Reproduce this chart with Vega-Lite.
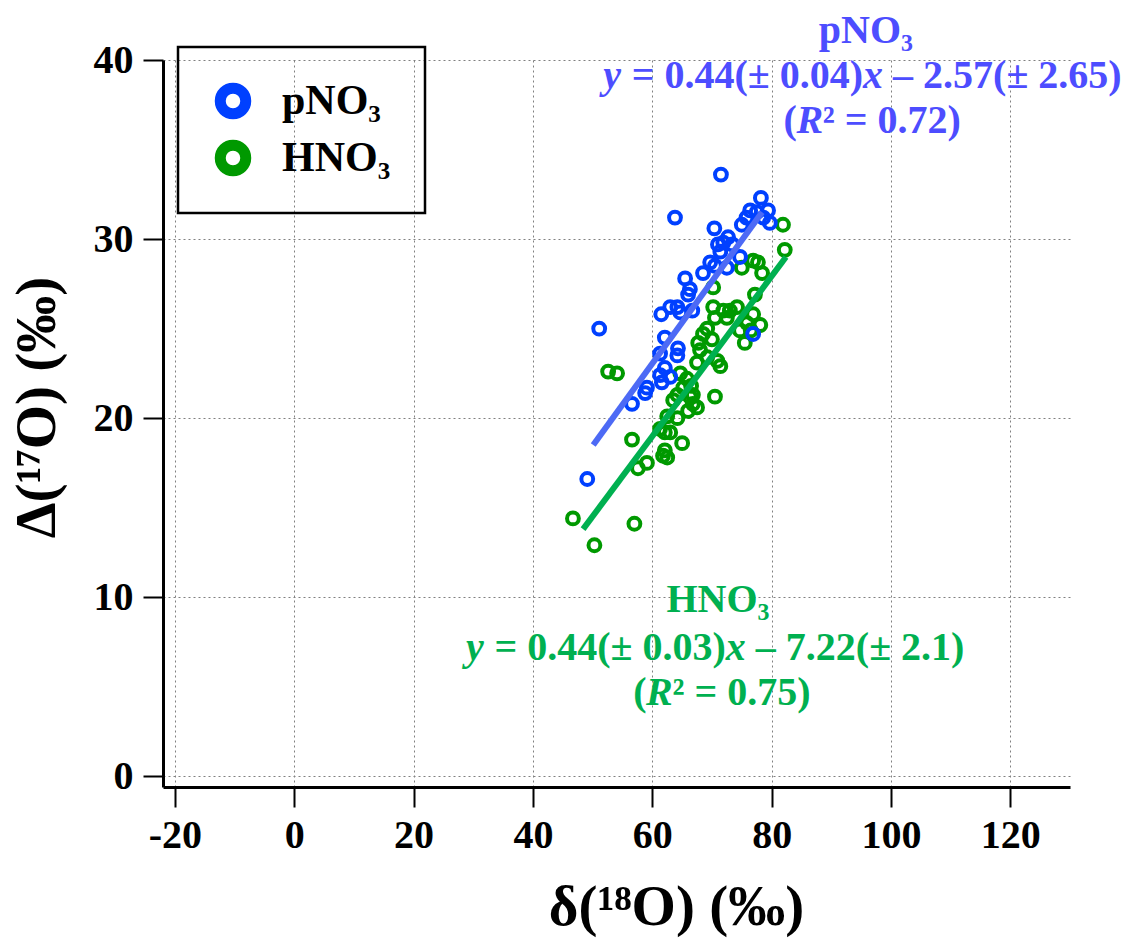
{
  "$schema": "https://vega.github.io/schema/vega-lite/v6.json",
  "width": 907,
  "height": 727,
  "autosize": {"type": "none"},
  "padding": {"left": 163, "top": 60, "right": 61, "bottom": 154},
  "background": "white",
  "config": {
    "view": {"stroke": null},
    "font": "Liberation Serif",
    "legend": {"strokeWidth": 2.5},
    "axis": {
      "domainColor": "black",
      "domainWidth": 3,
      "tickColor": "black",
      "tickWidth": 2,
      "tickSize": 20,
      "labelFont": "Liberation Serif",
      "labelFontSize": 40,
      "labelFontWeight": "bold",
      "labelColor": "black",
      "gridColor": "#808080",
      "gridDash": [2, 3],
      "gridWidth": 1,
      "titleFont": "Liberation Serif",
      "titleFontSize": 57,
      "titleFontWeight": "bold",
      "titleColor": "black"
    }
  },
  "datasets": {
    "pts": [
      {"species": "HNO₃", "d18O": 81.9, "D17O": 30.8},
      {"species": "HNO₃", "d18O": 82.2, "D17O": 29.4},
      {"species": "HNO₃", "d18O": 76.9, "D17O": 28.8},
      {"species": "HNO₃", "d18O": 77.7, "D17O": 28.7},
      {"species": "HNO₃", "d18O": 78.4, "D17O": 28.1},
      {"species": "HNO₃", "d18O": 75.0, "D17O": 28.4},
      {"species": "HNO₃", "d18O": 77.2, "D17O": 26.9},
      {"species": "HNO₃", "d18O": 70.2, "D17O": 27.3},
      {"species": "HNO₃", "d18O": 70.2, "D17O": 26.2},
      {"species": "HNO₃", "d18O": 71.9, "D17O": 26.0},
      {"species": "HNO₃", "d18O": 74.2, "D17O": 26.2},
      {"species": "HNO₃", "d18O": 73.0, "D17O": 26.0},
      {"species": "HNO₃", "d18O": 70.5, "D17O": 25.6},
      {"species": "HNO₃", "d18O": 72.5, "D17O": 25.6},
      {"species": "HNO₃", "d18O": 76.9, "D17O": 25.8},
      {"species": "HNO₃", "d18O": 78.1, "D17O": 25.2},
      {"species": "HNO₃", "d18O": 75.9, "D17O": 25.3},
      {"species": "HNO₃", "d18O": 74.7, "D17O": 24.9},
      {"species": "HNO₃", "d18O": 75.5, "D17O": 24.2},
      {"species": "HNO₃", "d18O": 76.5, "D17O": 24.9},
      {"species": "HNO₃", "d18O": 69.2, "D17O": 25.0},
      {"species": "HNO₃", "d18O": 68.5, "D17O": 24.7},
      {"species": "HNO₃", "d18O": 67.7, "D17O": 24.2},
      {"species": "HNO₃", "d18O": 68.0, "D17O": 23.8},
      {"species": "HNO₃", "d18O": 70.0, "D17O": 24.4},
      {"species": "HNO₃", "d18O": 70.9, "D17O": 23.2},
      {"species": "HNO₃", "d18O": 71.4, "D17O": 22.9},
      {"species": "HNO₃", "d18O": 69.2, "D17O": 23.4},
      {"species": "HNO₃", "d18O": 67.5, "D17O": 23.1},
      {"species": "HNO₃", "d18O": 64.7, "D17O": 22.5},
      {"species": "HNO₃", "d18O": 65.8, "D17O": 22.2},
      {"species": "HNO₃", "d18O": 65.2, "D17O": 21.7},
      {"species": "HNO₃", "d18O": 66.5, "D17O": 21.8},
      {"species": "HNO₃", "d18O": 64.2, "D17O": 21.3},
      {"species": "HNO₃", "d18O": 66.8, "D17O": 21.3},
      {"species": "HNO₃", "d18O": 70.5, "D17O": 21.2},
      {"species": "HNO₃", "d18O": 52.6, "D17O": 22.6},
      {"species": "HNO₃", "d18O": 54.1, "D17O": 22.5},
      {"species": "HNO₃", "d18O": 63.5, "D17O": 21.0},
      {"species": "HNO₃", "d18O": 66.3, "D17O": 21.2},
      {"species": "HNO₃", "d18O": 66.8, "D17O": 20.8},
      {"species": "HNO₃", "d18O": 66.0, "D17O": 20.4},
      {"species": "HNO₃", "d18O": 67.5, "D17O": 20.6},
      {"species": "HNO₃", "d18O": 62.5, "D17O": 20.1},
      {"species": "HNO₃", "d18O": 64.2, "D17O": 20.0},
      {"species": "HNO₃", "d18O": 62.1, "D17O": 19.2},
      {"species": "HNO₃", "d18O": 63.0, "D17O": 19.2},
      {"species": "HNO₃", "d18O": 61.3, "D17O": 19.4},
      {"species": "HNO₃", "d18O": 65.0, "D17O": 18.6},
      {"species": "HNO₃", "d18O": 62.1, "D17O": 18.2},
      {"species": "HNO₃", "d18O": 61.8, "D17O": 17.9},
      {"species": "HNO₃", "d18O": 62.5, "D17O": 17.8},
      {"species": "HNO₃", "d18O": 56.6, "D17O": 18.8},
      {"species": "HNO₃", "d18O": 59.1, "D17O": 17.5},
      {"species": "HNO₃", "d18O": 57.6, "D17O": 17.2},
      {"species": "HNO₃", "d18O": 46.7, "D17O": 14.4},
      {"species": "HNO₃", "d18O": 57.0, "D17O": 14.1},
      {"species": "HNO₃", "d18O": 50.3, "D17O": 12.9},
      {"species": "pNO₃", "d18O": 71.5, "D17O": 33.6},
      {"species": "pNO₃", "d18O": 63.8, "D17O": 31.2},
      {"species": "pNO₃", "d18O": 78.2, "D17O": 32.3},
      {"species": "pNO₃", "d18O": 76.4, "D17O": 31.6},
      {"species": "pNO₃", "d18O": 77.5, "D17O": 31.5},
      {"species": "pNO₃", "d18O": 79.4, "D17O": 31.6},
      {"species": "pNO₃", "d18O": 79.7, "D17O": 30.9},
      {"species": "pNO₃", "d18O": 78.6, "D17O": 31.2},
      {"species": "pNO₃", "d18O": 75.0, "D17O": 30.8},
      {"species": "pNO₃", "d18O": 75.8, "D17O": 31.2},
      {"species": "pNO₃", "d18O": 70.4, "D17O": 30.6},
      {"species": "pNO₃", "d18O": 72.7, "D17O": 30.1},
      {"species": "pNO₃", "d18O": 71.9, "D17O": 29.8},
      {"species": "pNO₃", "d18O": 73.4, "D17O": 29.7},
      {"species": "pNO₃", "d18O": 71.0, "D17O": 29.7},
      {"species": "pNO₃", "d18O": 71.4, "D17O": 29.3},
      {"species": "pNO₃", "d18O": 74.7, "D17O": 29.0},
      {"species": "pNO₃", "d18O": 69.7, "D17O": 28.7},
      {"species": "pNO₃", "d18O": 70.5, "D17O": 28.5},
      {"species": "pNO₃", "d18O": 68.5, "D17O": 28.1},
      {"species": "pNO₃", "d18O": 72.5, "D17O": 28.4},
      {"species": "pNO₃", "d18O": 65.5, "D17O": 27.8},
      {"species": "pNO₃", "d18O": 66.3, "D17O": 27.2},
      {"species": "pNO₃", "d18O": 66.0, "D17O": 26.9},
      {"species": "pNO₃", "d18O": 63.0, "D17O": 26.2},
      {"species": "pNO₃", "d18O": 64.2, "D17O": 26.2},
      {"species": "pNO₃", "d18O": 64.7, "D17O": 25.9},
      {"species": "pNO₃", "d18O": 66.7, "D17O": 26.0},
      {"species": "pNO₃", "d18O": 61.5, "D17O": 25.8},
      {"species": "pNO₃", "d18O": 51.1, "D17O": 25.0},
      {"species": "pNO₃", "d18O": 76.9, "D17O": 24.7},
      {"species": "pNO₃", "d18O": 62.1, "D17O": 24.5},
      {"species": "pNO₃", "d18O": 64.3, "D17O": 23.9},
      {"species": "pNO₃", "d18O": 64.2, "D17O": 23.5},
      {"species": "pNO₃", "d18O": 61.3, "D17O": 23.6},
      {"species": "pNO₃", "d18O": 62.1, "D17O": 22.8},
      {"species": "pNO₃", "d18O": 61.3, "D17O": 22.4},
      {"species": "pNO₃", "d18O": 63.0, "D17O": 22.3},
      {"species": "pNO₃", "d18O": 61.6, "D17O": 22.0},
      {"species": "pNO₃", "d18O": 59.1, "D17O": 21.7},
      {"species": "pNO₃", "d18O": 58.8, "D17O": 21.4},
      {"species": "pNO₃", "d18O": 56.6, "D17O": 20.8},
      {"species": "pNO₃", "d18O": 49.1, "D17O": 16.6}
    ],
    "fit": [
      {"species": "pNO₃", "d18O": 50.1, "D17O": 18.5},
      {"species": "pNO₃", "d18O": 78.4, "D17O": 31.5},
      {"species": "HNO₃", "d18O": 48.4, "D17O": 13.8},
      {"species": "HNO₃", "d18O": 82.4, "D17O": 29.0}
    ],
    "notes": [
      {"species": "pNO₃", "head": "pNO₃", "hx": 95.8, "hy": 40.95, "ex": 97.0, "ey": 38.44, "yv": "y", "eq1": "= 0.44(± 0.04)", "xv": "x", "eq2": "– 2.57(± 2.65)", "rx": 86.4, "ry": 35.92, "r0": "(", "rR": "R", "r2": "² = 0.72)"},
      {"species": "HNO₃", "head": "HNO₃", "hx": 71.0, "hy": 9.16, "ex": 74.0, "ey": 6.48, "yv": "y", "eq1": "= 0.44(± 0.03)", "xv": "x", "eq2": "– 7.22(± 2.1)", "rx": 61.2, "ry": 3.97, "r0": "(", "rR": "R", "r2": "² = 0.75)"}
    ]
  },
  "resolve": {"scale": {"color": "independent"}},
  "layer": [
    {
      "data": {"name": "pts"},
      "mark": {"type": "point", "shape": "circle", "filled": false, "strokeWidth": 4, "size": 140, "opacity": 1},
      "encoding": {
        "x": {"field": "d18O", "type": "quantitative", "scale": {"domain": [-22, 130], "nice": false, "zero": false},
              "axis": {"values": [-20, 0, 20, 40, 60, 80, 100, 120], "labelExpr": "datum.value", "labelPadding": 8, "titlePadding": 24, "titleX": 513}, "title": "δ(¹⁸O) (‰)"},
        "y": {"field": "D17O", "type": "quantitative", "scale": {"domain": [-0.6, 40], "nice": false, "zero": false},
              "axis": {"values": [0, 10, 20, 30, 40], "labelExpr": "datum.value", "labelPadding": 10, "titlePadding": 27, "titleY": 347}, "title": "Δ(¹⁷O) (‰)"},
        "color": {
          "field": "species", "type": "nominal",
          "scale": {"domain": ["pNO₃", "HNO₃"], "range": ["#0040FF", "#009900"]},
          "legend": {
            "title": null, "orient": "none", "legendX": 15, "legendY": -13,
            "padding": 34, "strokeColor": "black", "symbolType": "circle",
            "symbolSize": 650, "symbolStrokeWidth": 11, "symbolFillColor": "transparent",
            "labelFont": "Liberation Serif", "labelFontSize": 42, "labelFontWeight": "bold", "labelColor": "black",
            "labelOffset": 28, "clipHeight": 40, "rowPadding": 15,
            "encode": {
              "symbols": {"update": {"stroke": {"signal": "datum.value === 'pNO₃' ? '#4A6CF7' : '#00B050'"}, "fill": {"value": "transparent"}}},
              "legend": {"update": {"strokeWidth": {"value": 2.5}}}
            }
          }
        }
      }
    },
    {
      "data": {"name": "fit"},
      "mark": {"type": "line", "strokeWidth": 6},
      "encoding": {
        "x": {"field": "d18O", "type": "quantitative", "title": "δ(¹⁸O) (‰)"},
        "y": {"field": "D17O", "type": "quantitative", "title": "Δ(¹⁷O) (‰)"},
        "color": {"field": "species", "type": "nominal", "scale": {"domain": ["pNO₃", "HNO₃"], "range": ["#4D6AF5", "#00B050"]}, "legend": null}
      }
    },
    {
      "data": {"name": "notes"},
      "mark": {"type": "text", "align": "center", "baseline": "alphabetic", "fontSize": 40, "fontWeight": "bold", "font": "Liberation Serif"},
      "encoding": {
        "x": {"field": "hx", "type": "quantitative", "title": "δ(¹⁸O) (‰)"},
        "y": {"field": "hy", "type": "quantitative", "title": "Δ(¹⁷O) (‰)"},
        "text": {"field": "head"},
        "color": {"field": "species", "type": "nominal", "scale": {"domain": ["pNO₃", "HNO₃"], "range": ["#4D4DFF", "#00B050"]}, "legend": null}
      }
    },
    {
      "data": {"name": "notes"},
      "mark": {"type": "text", "align": "right", "dx": -252, "baseline": "alphabetic", "fontSize": 40, "fontWeight": "bold", "fontStyle": "italic", "font": "Liberation Serif"},
      "encoding": {
        "x": {"field": "ex", "type": "quantitative", "title": "δ(¹⁸O) (‰)"},
        "y": {"field": "ey", "type": "quantitative", "title": "Δ(¹⁷O) (‰)"},
        "text": {"field": "yv"},
        "color": {"field": "species", "type": "nominal", "scale": {"domain": ["pNO₃", "HNO₃"], "range": ["#4D4DFF", "#00B050"]}, "legend": null}
      }
    },
    {
      "data": {"name": "notes"},
      "mark": {"type": "text", "align": "right", "dx": -10, "baseline": "alphabetic", "fontSize": 40, "fontWeight": "bold", "font": "Liberation Serif"},
      "encoding": {
        "x": {"field": "ex", "type": "quantitative", "title": "δ(¹⁸O) (‰)"},
        "y": {"field": "ey", "type": "quantitative", "title": "Δ(¹⁷O) (‰)"},
        "text": {"field": "eq1"},
        "color": {"field": "species", "type": "nominal", "scale": {"domain": ["pNO₃", "HNO₃"], "range": ["#4D4DFF", "#00B050"]}, "legend": null}
      }
    },
    {
      "data": {"name": "notes"},
      "mark": {"type": "text", "align": "center", "baseline": "alphabetic", "fontSize": 40, "fontWeight": "bold", "fontStyle": "italic", "font": "Liberation Serif"},
      "encoding": {
        "x": {"field": "ex", "type": "quantitative", "title": "δ(¹⁸O) (‰)"},
        "y": {"field": "ey", "type": "quantitative", "title": "Δ(¹⁷O) (‰)"},
        "text": {"field": "xv"},
        "color": {"field": "species", "type": "nominal", "scale": {"domain": ["pNO₃", "HNO₃"], "range": ["#4D4DFF", "#00B050"]}, "legend": null}
      }
    },
    {
      "data": {"name": "notes"},
      "mark": {"type": "text", "align": "left", "dx": 20, "baseline": "alphabetic", "fontSize": 40, "fontWeight": "bold", "font": "Liberation Serif"},
      "encoding": {
        "x": {"field": "ex", "type": "quantitative", "title": "δ(¹⁸O) (‰)"},
        "y": {"field": "ey", "type": "quantitative", "title": "Δ(¹⁷O) (‰)"},
        "text": {"field": "eq2"},
        "color": {"field": "species", "type": "nominal", "scale": {"domain": ["pNO₃", "HNO₃"], "range": ["#4D4DFF", "#00B050"]}, "legend": null}
      }
    },
    {
      "data": {"name": "notes"},
      "mark": {"type": "text", "align": "right", "dx": -13, "baseline": "alphabetic", "fontSize": 40, "fontWeight": "bold", "font": "Liberation Serif"},
      "encoding": {
        "x": {"field": "rx", "type": "quantitative", "title": "δ(¹⁸O) (‰)"},
        "y": {"field": "ry", "type": "quantitative", "title": "Δ(¹⁷O) (‰)"},
        "text": {"field": "r0"},
        "color": {"field": "species", "type": "nominal", "scale": {"domain": ["pNO₃", "HNO₃"], "range": ["#4D4DFF", "#00B050"]}, "legend": null}
      }
    },
    {
      "data": {"name": "notes"},
      "mark": {"type": "text", "align": "center", "baseline": "alphabetic", "fontSize": 40, "fontWeight": "bold", "fontStyle": "italic", "font": "Liberation Serif"},
      "encoding": {
        "x": {"field": "rx", "type": "quantitative", "title": "δ(¹⁸O) (‰)"},
        "y": {"field": "ry", "type": "quantitative", "title": "Δ(¹⁷O) (‰)"},
        "text": {"field": "rR"},
        "color": {"field": "species", "type": "nominal", "scale": {"domain": ["pNO₃", "HNO₃"], "range": ["#4D4DFF", "#00B050"]}, "legend": null}
      }
    },
    {
      "data": {"name": "notes"},
      "mark": {"type": "text", "align": "left", "dx": 13, "baseline": "alphabetic", "fontSize": 40, "fontWeight": "bold", "font": "Liberation Serif"},
      "encoding": {
        "x": {"field": "rx", "type": "quantitative", "title": "δ(¹⁸O) (‰)"},
        "y": {"field": "ry", "type": "quantitative", "title": "Δ(¹⁷O) (‰)"},
        "text": {"field": "r2"},
        "color": {"field": "species", "type": "nominal", "scale": {"domain": ["pNO₃", "HNO₃"], "range": ["#4D4DFF", "#00B050"]}, "legend": null}
      }
    }
  ]
}
